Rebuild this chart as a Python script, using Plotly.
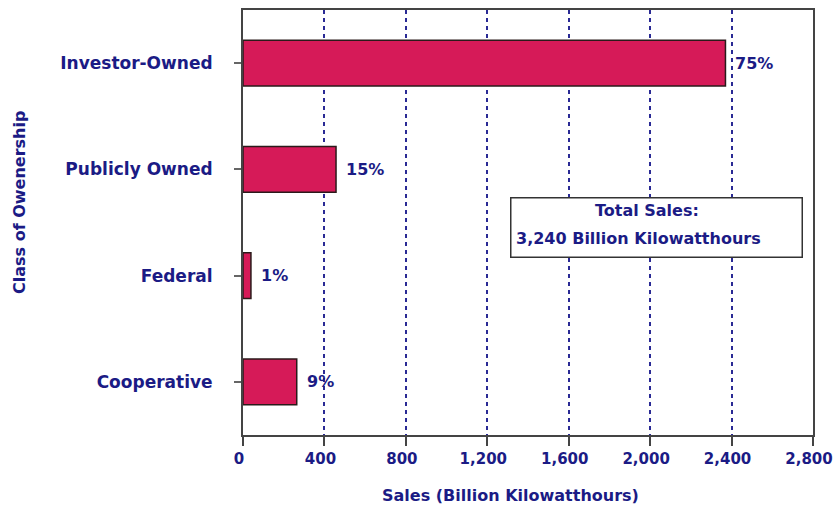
import plotly.graph_objects as go

categories = ["Investor-Owned", "Publicly Owned", "Federal", "Cooperative"]
sales = [2370, 457, 39, 264]
pct_labels = ["75%", "15%", "1%", "9%"]
x_ticks = [0, 400, 800, 1200, 1600, 2000, 2400, 2800]
x_ticktext = ["0", "400", "800", "1,200", "1,600", "2,000", "2,400", "2,800"]

NAVY = "#1b1b85"
FONT = "DejaVu Sans"
L, R, T, B = 243, 813, 10, 435
PW, PH = R - L, B - T


def px(x):
    return (x - L) / PW


def py(y):
    return (B - y) / PH


def bold(size):
    return dict(family=FONT, size=size, color=NAVY, weight="bold")


fig = go.Figure()
fig.add_trace(go.Bar(
    y=categories, x=sales, orientation="h",
    marker=dict(color="#d61a58", line=dict(color="#2a1a1a", width=1.5)),
    width=0.43,
    hoverinfo="skip",
))

for c, v, t in zip(categories, sales, pct_labels):
    fig.add_annotation(x=v, y=c, text=t, showarrow=False, xanchor="left",
                       xshift=8, font=bold(16))

fig.add_annotation(xref="paper", yref="paper", x=px(510), y=py(197),
                   xanchor="left", yanchor="top", text="", showarrow=False,
                   width=288, height=56, bordercolor="#333333", borderwidth=1.5,
                   bgcolor="white")
fig.add_annotation(xref="paper", yref="paper", x=px(647), y=py(211),
                   xanchor="center", yanchor="middle",
                   text="Total Sales:", showarrow=False, font=bold(16))
fig.add_annotation(xref="paper", yref="paper", x=px(638), y=py(238),
                   xanchor="center", yanchor="middle",
                   text="3,240 Billion Kilowatthours", showarrow=False, font=bold(16))

# axis titles
fig.add_annotation(xref="paper", yref="paper", x=px(510), y=py(495),
                   xanchor="center", yanchor="middle", showarrow=False,
                   text="Sales (Billion Kilowatthours)", font=bold(16))
fig.add_annotation(xref="paper", yref="paper", x=px(19), y=py(203),
                   xanchor="center", yanchor="middle", showarrow=False, textangle=-90,
                   text="Class of Owenership", font=bold(16))

fig.update_layout(
    width=833, height=510,
    margin=dict(l=L, r=833 - R, t=T, b=510 - B, autoexpand=False),
    plot_bgcolor="white", paper_bgcolor="white",
    showlegend=False,
    font=dict(family=FONT, color=NAVY, size=16),
    xaxis=dict(
        range=[0, 2800], tickvals=x_ticks, ticktext=x_ticktext,
        showgrid=True, gridcolor="#2a2a95", gridwidth=1.5, griddash="4px,4px",
        showline=True, linecolor="#444444", linewidth=2, mirror=True,
        ticks="outside", ticklen=9, tickcolor="#444444", tickwidth=1.5,
        tickfont=bold(15), ticklabeloverflow="allow", ticklabelshift=-4,
        zeroline=False,
    ),
    yaxis=dict(
        categoryorder="array", categoryarray=categories, autorange="reversed",
        showline=True, linecolor="#444444", linewidth=2, mirror=True,
        ticks="outside", ticklen=7, tickcolor="#666666", tickwidth=1.5,
        ticklabelstandoff=18,
        tickfont=bold(17),
        showgrid=False,
    ),
)

fig.write_html("out.html")
